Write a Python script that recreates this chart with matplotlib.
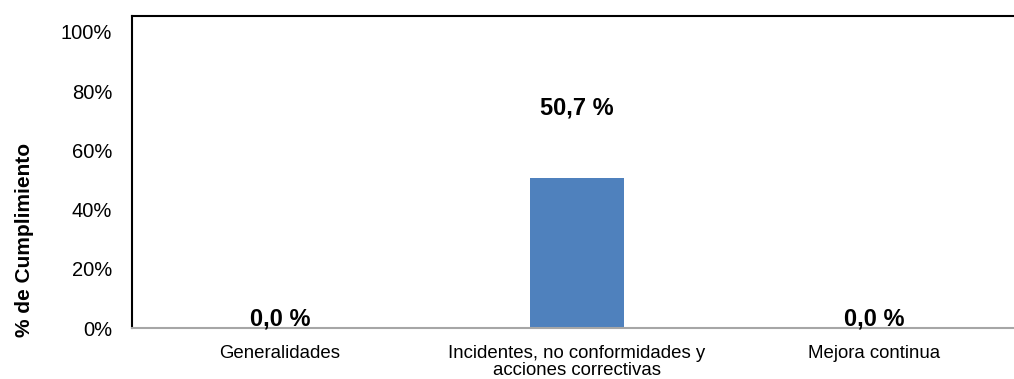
import matplotlib
matplotlib.use("Agg")
import matplotlib.pyplot as plt
from matplotlib.ticker import PercentFormatter

plt.rcParams['font.family'] = ['Liberation Sans', 'DejaVu Sans']

categories = ["Generalidades", "Incidentes, no conformidades y\nacciones correctivas", "Mejora continua"]
values = [0.0, 50.7, 0.0]
yticks = [0, 20, 40, 60, 80, 100]

fig = plt.figure(figsize=(10.14, 3.79), dpi=100)
ax = fig.add_axes([131.5/1014, 51/379, 891/1014, 312/379])

x = list(range(len(categories)))
ax.bar(x, values, width=0.317, color="#4F81BD", zorder=2)
ax.set_xlim(-0.5, len(categories) - 0.5)
ax.set_ylim(0, 105.4)
ax.set_yticks(yticks)
ax.yaxis.set_major_formatter(PercentFormatter(decimals=0))
ax.set_xticks(x)
ax.set_xticklabels(categories, fontsize=13.4, linespacing=1.05)
ax.tick_params(axis='y', labelsize=14.5, length=0, pad=14)
ax.tick_params(axis='x', length=0, pad=12)

for xi, v in zip(x, values):
    offset = 1.0 if v == 0 else 21.3
    ax.text(xi, v + offset, f"{v:.1f} %".replace('.', ','), ha='center', va='baseline',
            fontsize=17, fontweight='bold')

ax.set_ylabel("% de Cumplimiento", fontsize=15, fontweight='bold')
ax.yaxis.set_label_coords(-0.1094, 0.282)

for s in ['left', 'top']:
    ax.spines[s].set_color('black')
    ax.spines[s].set_linewidth(1.5)
ax.spines['right'].set_visible(False)
ax.spines['bottom'].set_color('#a6a6a6')
ax.spines['bottom'].set_linewidth(1.5)

fig.savefig("out.png", dpi=100)
